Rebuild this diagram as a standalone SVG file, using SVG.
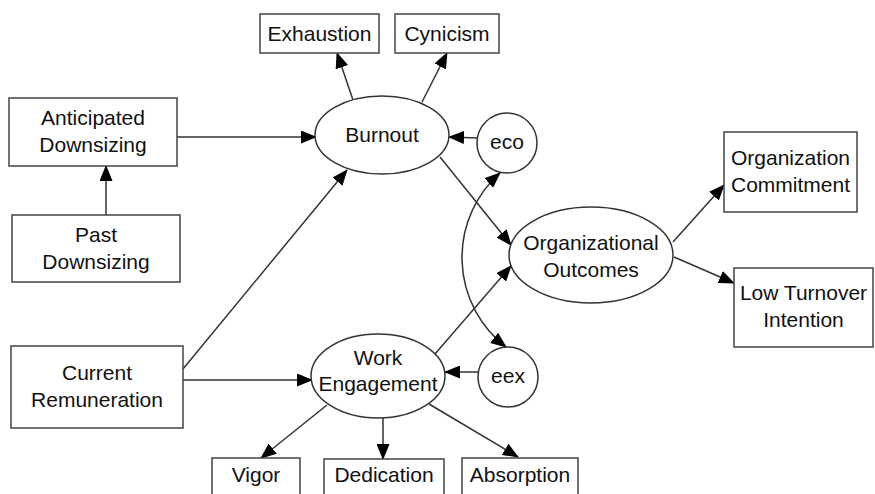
<svg xmlns="http://www.w3.org/2000/svg" width="875" height="494" viewBox="0 0 875 494">
<style>
.box{fill:#fff;stroke:#444;stroke-width:1.5}
.ell{fill:#fff;stroke:#333;stroke-width:1.5}
.t{font-family:"Liberation Sans",Arial,sans-serif;font-size:21px;fill:#111;text-anchor:middle}
.c{fill:none;stroke:#333;stroke-width:1.5}
</style>
<defs>
<marker id="ah" markerUnits="userSpaceOnUse" markerWidth="16" markerHeight="13" refX="15" refY="6.5" orient="auto-start-reverse" viewBox="0 0 16 13">
<path d="M0,0 L16,6.5 L0,13 z" fill="#000"/>
</marker>
</defs>
<rect width="875" height="494" fill="#fff"/>
<g id="connectors">
<path class="c" d="M177 137 L316 137" marker-end="url(#ah)"/>
<path class="c" d="M106 215 L106 166" marker-end="url(#ah)"/>
<path class="c" d="M353 100 L337 53" marker-end="url(#ah)"/>
<path class="c" d="M422 102 L447 53" marker-end="url(#ah)"/>
<path class="c" d="M477 138 L449 137" marker-end="url(#ah)"/>
<path class="c" d="M183 369 L347 170" marker-end="url(#ah)"/>
<path class="c" d="M183 380 L312 380" marker-end="url(#ah)"/>
<path class="c" d="M478 372 L445 372" marker-end="url(#ah)"/>
<path class="c" d="M440 157 L511 245" marker-end="url(#ah)"/>
<path class="c" d="M435 354 L511 266" marker-end="url(#ah)"/>
<path class="c" d="M673 242 L724 185" marker-end="url(#ah)"/>
<path class="c" d="M674 257 L734 283" marker-end="url(#ah)"/>
<path class="c" d="M327 405 L261 458" marker-end="url(#ah)"/>
<path class="c" d="M383 418 L383 459" marker-end="url(#ah)"/>
<path class="c" d="M429 404 L518 457" marker-end="url(#ah)"/>
<path class="c" d="M500 173 A113 113 0 0 0 506 347" marker-start="url(#ah)" marker-end="url(#ah)"/>
</g>
<g id="exhaustion"><rect class="box" x="260" y="14" width="119" height="39"/><text class="t" x="319.5" y="41">Exhaustion</text></g>
<g id="cynicism"><rect class="box" x="395" y="14" width="104" height="39"/><text class="t" x="447" y="41">Cynicism</text></g>
<g id="anticipated"><rect class="box" x="9" y="98" width="168" height="68"/><text class="t" x="93" y="125">Anticipated</text><text class="t" x="93" y="152">Downsizing</text></g>
<g id="past"><rect class="box" x="12" y="215" width="168" height="67"/><text class="t" x="96" y="242">Past</text><text class="t" x="96" y="269">Downsizing</text></g>
<g id="current"><rect class="box" x="11" y="346" width="172" height="82"/><text class="t" x="97" y="380">Current</text><text class="t" x="97" y="407">Remuneration</text></g>
<g id="burnout"><ellipse class="ell" cx="382" cy="135" rx="67" ry="39"/><text class="t" x="382" y="142">Burnout</text></g>
<g id="eco"><circle class="ell" cx="507" cy="143" r="30"/><text class="t" x="507" y="149">eco</text></g>
<g id="outcomes"><ellipse class="ell" cx="591" cy="255" rx="82" ry="48"/><text class="t" x="591" y="250">Organizational</text><text class="t" x="591" y="277">Outcomes</text></g>
<g id="engagement"><ellipse class="ell" cx="378" cy="376" rx="67" ry="42"/><text class="t" x="378" y="365">Work</text><text class="t" x="378" y="391">Engagement</text></g>
<g id="eex"><circle class="ell" cx="508" cy="377" r="30"/><text class="t" x="508" y="383">eex</text></g>
<g id="commitment"><rect class="box" x="724" y="132" width="133" height="80"/><text class="t" x="790.5" y="165">Organization</text><text class="t" x="790.5" y="192">Commitment</text></g>
<g id="turnover"><rect class="box" x="734" y="268" width="139" height="79"/><text class="t" x="803.5" y="300">Low Turnover</text><text class="t" x="803.5" y="327">Intention</text></g>
<g id="vigor"><rect class="box" x="212" y="458" width="88" height="45"/><text class="t" x="256" y="482">Vigor</text></g>
<g id="dedication"><rect class="box" x="324" y="459" width="120" height="45"/><text class="t" x="384" y="482">Dedication</text></g>
<g id="absorption"><rect class="box" x="462" y="458" width="116" height="45"/><text class="t" x="520" y="482">Absorption</text></g>
</svg>
